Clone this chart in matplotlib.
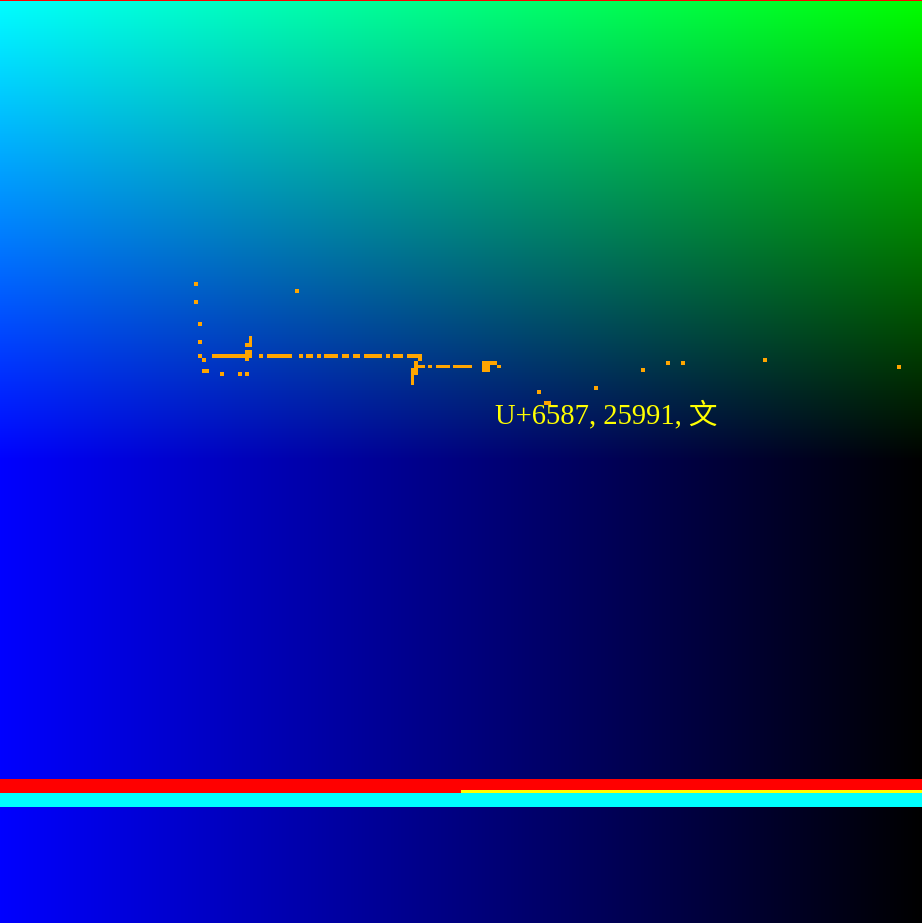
import numpy as np
import matplotlib
matplotlib.use("Agg")
import matplotlib.pyplot as plt

W, H = 922, 923

# orange marks: left, right, top, bottom (picture coords)
orange_x0 = [194, 194, 198, 198, 198, 202, 202, 220, 238, 245, 295,
             212, 248.5, 245, 245, 245, 259, 267, 299, 306, 317, 324, 342, 353, 364, 386, 393, 407,
             418, 414, 414, 428, 436, 453, 410.5, 410.5,
             482, 482, 497,
             537, 544, 594, 641, 666, 681, 763, 897]
orange_x1 = [197.5, 197.5, 201.5, 201.5, 201.5, 205.5, 209, 223.5, 241.5, 248.5, 298.5,
             252, 252, 252, 252, 248.5, 262.5, 292, 302.5, 313, 320.5, 338, 349, 360, 382, 389.5, 403, 422,
             421.5, 418, 425, 431.5, 450, 472, 418, 414,
             497, 490, 500.5,
             540.5, 551, 597.5, 644.5, 669.5, 684.5, 766.5, 900.5]
orange_y0 = [282, 300, 322, 340, 354, 358, 369, 372, 372, 372, 289,
             354, 336, 343, 350, 354, 354, 354, 354, 354, 354, 354, 354, 354, 354, 354, 354, 354,
             357.5, 361, 364.5, 364.5, 364.5, 364.5, 368, 375,
             361, 364.5, 364.5,
             390, 401, 386, 368, 361, 361, 358, 365]
orange_y1 = [285.5, 303.5, 325.5, 343.5, 357.5, 361.5, 372.5, 375.5, 375.5, 375.5, 292.5,
             357.5, 343, 346.5, 354, 361, 357.5, 357.5, 357.5, 357.5, 357.5, 357.5, 357.5, 357.5, 357.5, 357.5, 357.5, 357.5,
             361, 364.5, 368, 368, 368, 368, 375, 385,
             364.5, 372, 368,
             393.5, 404.5, 389.5, 371.5, 364.5, 364.5, 361.5, 368.5]

label_text = "U+6587, 25991, 文"

fig = plt.figure(figsize=(W / 100, H / 100), dpi=100)
ax = fig.add_axes([0, 0, 1, 1])
ax.set_xlim(0, W)
ax.set_ylim(H, 0)
ax.axis("off")

# background: green fades top->middle, blue fades left->right
yy, xx = np.mgrid[0:H, 0:W]
img = np.zeros((H, W, 3))
img[..., 1] = np.clip(1 - yy / 461.5, 0, 1)
img[..., 2] = 1 - xx / (W - 1)
ax.imshow(img, extent=(0, W, H, 0), aspect="auto", interpolation="nearest", zorder=0)

# top red hairline
ax.axhspan(0, 1.3, color="red", lw=0, zorder=1)

x0 = np.array(orange_x0)
x1 = np.array(orange_x1)
y0 = np.array(orange_y0)
y1 = np.array(orange_y1)
ax.bar(x0, y1 - y0, width=x1 - x0, bottom=y0, align="edge", color="#FFA500", lw=0, zorder=2)

ax.text(495, 423.5, label_text, color="#FFFF00", fontsize=20.6, va="baseline", ha="left",
        family=["Liberation Serif", "Noto Sans CJK SC"], zorder=3)

# bottom bands
ax.axhspan(779, 793, color="red", lw=0, zorder=2)
ax.axhspan(793, 807, color="cyan", lw=0, zorder=2)
ax.bar(461, 3.3, width=W - 461, bottom=789.7, align="edge", color="yellow", lw=0, zorder=3)

fig.savefig("out.png", dpi=100)
